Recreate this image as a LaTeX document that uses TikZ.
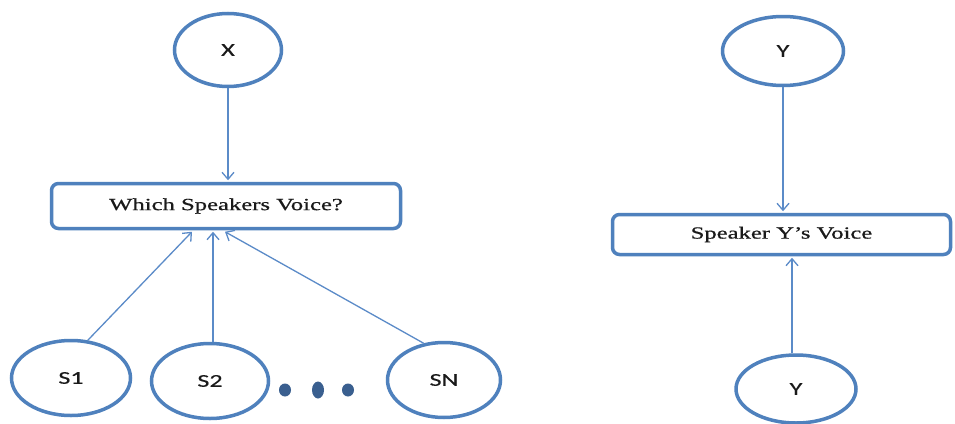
\documentclass[tikz,border=0pt]{standalone}
\usepackage{fontspec}
\setmainfont{Liberation Serif}[FakeBold=0.6]
\newfontfamily\labfont{Carlito}[FakeBold=0.3]
\usetikzlibrary{arrows.meta,calc,shapes.geometric}
\definecolor{edgeblue}{HTML}{4F81BD}
\definecolor{arrblue}{HTML}{5B8BC8}
\definecolor{dotblue}{HTML}{3A5F8F}
\definecolor{txt}{HTML}{1A1A1A}
\tikzset{
  circ/.style={ellipse, draw=edgeblue, line width=3.5pt, fill=white, inner sep=0pt},
  boxnode/.style={rectangle, rounded corners=7pt, draw=edgeblue, line width=3.5pt, fill=white, inner sep=0pt},
  arr/.style={draw=arrblue, line width=1.3pt, -{Straight Barb[length=7pt,width=12pt,line width=1.3pt]}},
  dotn/.style={ellipse, fill=dotblue, inner sep=0pt}
}
\newcommand{\lab}[1]{\scalebox{1.45}[1]{\labfont\fontsize{18}{20}\selectfont\color{txt}#1}}
\newcommand{\btxt}[1]{\scalebox{1.45}[1]{\fontsize{17}{19}\selectfont\color{txt}#1}}
\begin{document}
\begin{tikzpicture}[x=1pt,y=-1pt]
\useasboundingbox (0,0) rectangle (955,423);
\fill[white] (0,0) rectangle (955,423);
% left
\node[circ, minimum width=107pt, minimum height=73pt] (X) at (228,50) {\lab{X}};
\node[boxnode, minimum width=349pt, minimum height=45pt] (B1) at (226,206) {\btxt{Which Speakers Voice?}};
\node[circ, minimum width=119pt, minimum height=75pt] (S1) at (71,378) {\lab{S1}};
\node[circ, minimum width=117pt, minimum height=75pt] (S2) at (210,381) {\lab{S2}};
\node[circ, minimum width=113pt, minimum height=75pt] (SN) at (444,380) {\lab{SN}};
\node[dotn, minimum width=12pt, minimum height=13pt] (d1) at (285,390) {};
\node[dotn, minimum width=12pt, minimum height=17pt] (d2) at (318,390) {};
\node[dotn, minimum width=12pt, minimum height=13pt] (d3) at (348,390) {};
\draw[arr] (X.south) -- ($(X.south |- B1.north)+(0,-1.5)$);
\draw[arr] (S1.66) -- ($(B1.south)+(-34,1.5)$);
\draw[arr] ($(S2.north)+(3,0)$) -- ($(B1.south)+(-13,1.5)$);
\draw[arr] (SN.119) -- ($(B1.south)+(-1,1.5)$);
% right
\node[circ, minimum width=121pt, minimum height=69pt] (Y1) at (783,51) {\lab{Y}};
\node[boxnode, minimum width=338pt, minimum height=40pt] (B2) at (781.5,234.5) {\btxt{Speaker Y’s Voice}};
\node[circ, minimum width=120pt, minimum height=68pt] (Y2) at (796,389) {\lab{Y}};
\draw[arr] (Y1.south) -- ($(Y1.south |- B2.north)+(0,-1.5)$);
\draw[arr] ($(Y2.north)+(-4,0)$) -- ($(Y2.north |- B2.south)+(-4,1.5)$);
\end{tikzpicture}
\end{document}
